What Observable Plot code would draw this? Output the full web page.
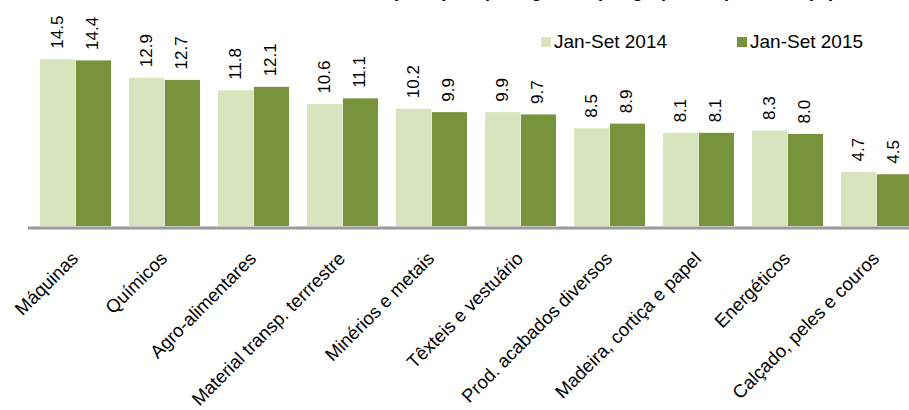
<!DOCTYPE html>
<html>
<head>
<meta charset="utf-8">
<script src="https://cdn.jsdelivr.net/npm/d3@7"></script>
<script src="https://cdn.jsdelivr.net/npm/@observablehq/plot@0.6"></script>
<style>
  html, body { margin: 0; padding: 0; background: #fff; overflow: hidden; }
  #wrap { position: relative; width: 909px; height: 410px; font-family: "Liberation Sans", Arial, sans-serif; }
  #title { position: absolute; top: -18px; right: 74px; font-size: 18px; line-height: 18px; font-weight: bold; color: #000; white-space: nowrap; }
  .leg { position: absolute; top: 31px; font-size: 19px; line-height: 22px; color: #000; white-space: nowrap; display: flex; align-items: center; }
  .sw { display: inline-block; width: 10px; height: 10px; margin-right: 3px; }
</style>
</head>
<body>
<div id="wrap">
  <div id="title">Estrutura das exportações portuguesas por grupos de produtos (%)</div>
  <div class="leg" style="left:541px"><span class="sw" style="background:#d7e4bd"></span>Jan-Set 2014</div>
  <div class="leg" style="left:737px"><span class="sw" style="background:#77933c"></span>Jan-Set 2015</div>
  <div id="chart"></div>
</div>
<script>
const categories = ["Máquinas", "Químicos", "Agro-alimentares", "Material transp. terrrestre", "Minérios e metais", "Têxteis e vestuário", "Prod. acabados diversos", "Madeira, cortiça e papel", "Energéticos", "Calçado, peles e couros"];
const values2014 = [14.5, 12.9, 11.8, 10.6, 10.2, 9.9, 8.5, 8.1, 8.3, 4.7];
const values2015 = [14.4, 12.7, 12.1, 11.1, 9.9, 9.7, 8.9, 8.1, 8.0, 4.5];
const seriesNames = ["Jan-Set 2014", "Jan-Set 2015"];
const colors = ["#d7e4bd", "#77933c"];

const d14 = categories.map((c, i) => ({cat: c, v: values2014[i]}));
const d15 = categories.map((c, i) => ({cat: c, v: values2015[i]}));

const step = 89.6;
const bw = step * 0.8;
const half = bw / 2;

const chart = Plot.plot({
  width: 909,
  height: 410,
  marginTop: 0,
  marginLeft: 28,
  marginRight: 0,
  marginBottom: 184,
  style: {fontFamily: "'Liberation Sans', Arial, sans-serif", background: "transparent", overflow: "hidden"},
  x: {domain: categories, range: [28, 28 + step * categories.length], paddingInner: 0.2, paddingOuter: 0.1, axis: null},
  y: {domain: [0, 19.65], axis: null},
  marks: [
    Plot.barY(d14, {x: "cat", y: "v", fill: colors[0], insetRight: half}),
    Plot.barY(d15, {x: "cat", y: "v", fill: colors[1], insetLeft: half}),
    Plot.ruleY([0], {stroke: "#9a9a9a", strokeWidth: 3, dy: 1.5}),
    Plot.text(d14, {x: "cat", y: "v", text: d => d.v.toFixed(1), rotate: -90, textAnchor: "start", lineAnchor: "middle", dx: -half / 2 - 1, dy: -11, fontSize: 17, fill: "#000"}),
    Plot.text(d15, {x: "cat", y: "v", text: d => d.v.toFixed(1), rotate: -90, textAnchor: "start", lineAnchor: "middle", dx: half / 2 - 1, dy: -11, fontSize: 17, fill: "#000"}),
    Plot.text(categories, {x: d => d, y: () => 0, text: d => d, rotate: -45, textAnchor: "end", lineAnchor: "top", dx: -6, dy: 24, fontSize: 18.5, fill: "#000"})
  ]
});
document.getElementById("chart").appendChild(chart);
</script>
</body>
</html>
